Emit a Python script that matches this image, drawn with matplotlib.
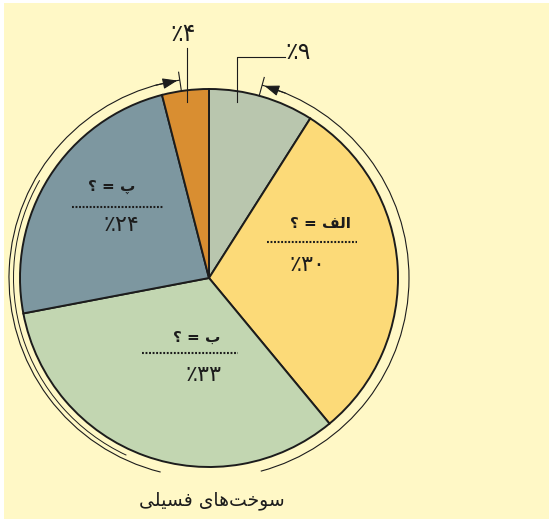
import matplotlib
matplotlib.use("Agg")
import matplotlib.pyplot as plt
from matplotlib.patches import Arc, Rectangle
import numpy as np

W, H = 554, 522

# pie slices, clockwise from 12 o'clock
shares = [9, 30, 33, 24, 4]
colors = ["#b9c6ae", "#fcda78", "#c2d6b1", "#7d97a0", "#d98e31"]

# slice names, written in Arabic presentation forms and visual (left-to-right) order
# because matplotlib does no shaping / bidi
names = [None, "\uFED2\uFEDF\uFE8D", "\u0628", "\u067E", None]
title = "\uFEF0\uFEE0\uFEF4\uFEB4\uFED3 \uFEEF\uFE8E\uFEEB\uFE96\uFEA7\uFEEE\uFEB3"

to_fa = str.maketrans("0123456789", "\u06F0\u06F1\u06F2\u06F3\u06F4\u06F5\u06F6\u06F7\u06F8\u06F9")


def fa_pct(v):
    return "\u066A" + str(v).translate(to_fa)


# layout (pixel coords of the picture, y down)
cx, cy, R = 209, 278, 189
ring_r = 200
# label blocks inside the big slices: centre of dotted rule, half width
inner_pos = {1: (312, 242, 45), 2: (190, 353, 48), 3: (118, 207, 46)}
name_off = {1: (8, -19), 2: (7, -16), 3: (-6, -20)}
pct_off = {1: (-5, 23), 2: (14, 22), 3: (3, 18)}

bg = "#fff8c6"
ink = "#1c1c1c"

fig = plt.figure(figsize=(W / 100, H / 100), dpi=100, facecolor="white")
ax = fig.add_axes([0, 0, 1, 1])
ax.set_axis_off()
ax.add_patch(Rectangle((4, 3), 545, 516, facecolor=bg, edgecolor="none", zorder=0))

wedges, _ = ax.pie(shares, colors=colors, startangle=-90, counterclock=True,
                   center=(cx, cy), radius=R,
                   wedgeprops=dict(edgecolor=ink, linewidth=1.4))
for w in wedges:
    w.set_zorder(2)

ax.set_xlim(0, W)
ax.set_ylim(H, 0)
ax.set_aspect("equal")


def pt(phi, r):
    # phi = clockwise angle from top in degrees
    a = np.radians(phi)
    return cx + r * np.sin(a), cy - r * np.cos(a)


# outer bracket ring: right part and left part, gap at bottom for the title
ax.add_patch(Arc((cx, cy), 2 * ring_r, 2 * ring_r, theta1=15.4 - 90, theta2=165 - 90,
                 color=ink, lw=0.8, zorder=3))
ax.add_patch(Arc((cx, cy), 2 * ring_r, 2 * ring_r, theta1=194 - 90, theta2=351.6 - 90,
                 color=ink, lw=0.8, zorder=3))
ax.add_patch(Arc((cx, cy), 2 * 195.5, 2 * 195.5, theta1=205 - 90, theta2=300 - 90,
                 color=ink, lw=0.7, zorder=3))

# end ticks and arrow heads
for phi, back in [(15.4, 7), (351.6, -7)]:
    x0, y0 = pt(phi, 189)
    x1, y1 = pt(phi, 208)
    ax.plot([x0, x1], [y0, y1], color=ink, lw=0.8, zorder=3)
    ax.annotate("", xy=pt(phi + back * 0.1, ring_r), xytext=pt(phi + back, ring_r),
                arrowprops=dict(arrowstyle="-|>,head_length=0.6,head_width=0.22",
                                color=ink, lw=0.8, mutation_scale=15,
                                shrinkA=0, shrinkB=0), zorder=4)

# leaders for the two small slices
ax.plot([237, 237, 285], [102, 57, 57], color=ink, lw=0.8, zorder=3)
ax.text(298, 52, fa_pct(shares[0]), fontsize=17, ha="center", va="center", color=ink)
ax.plot([187, 187], [102, 48], color=ink, lw=0.8, zorder=3)
ax.text(183, 34, fa_pct(shares[4]), fontsize=17, ha="center", va="center", color=ink)

# labels inside the big slices
for i, (x, y, hw) in inner_pos.items():
    ax.plot([x - hw, x + hw], [y, y], color=ink, lw=1.5, linestyle=(0, (0.9, 0.8)),
            solid_capstyle="butt", zorder=3)
    nx, ny = name_off[i]
    ax.text(x + nx, y + ny, "\u061F = " + names[i], fontsize=11, fontweight="bold",
            ha="center", va="center", color=ink, zorder=4)
    px, py = pct_off[i]
    ax.text(x + px, y + py, fa_pct(shares[i]), fontsize=16, ha="center", va="center",
            color=ink, zorder=4)

ax.text(212, 501, title, fontsize=13.5, ha="center", va="center", color=ink)

fig.savefig("out.png", dpi=100, facecolor="white")
